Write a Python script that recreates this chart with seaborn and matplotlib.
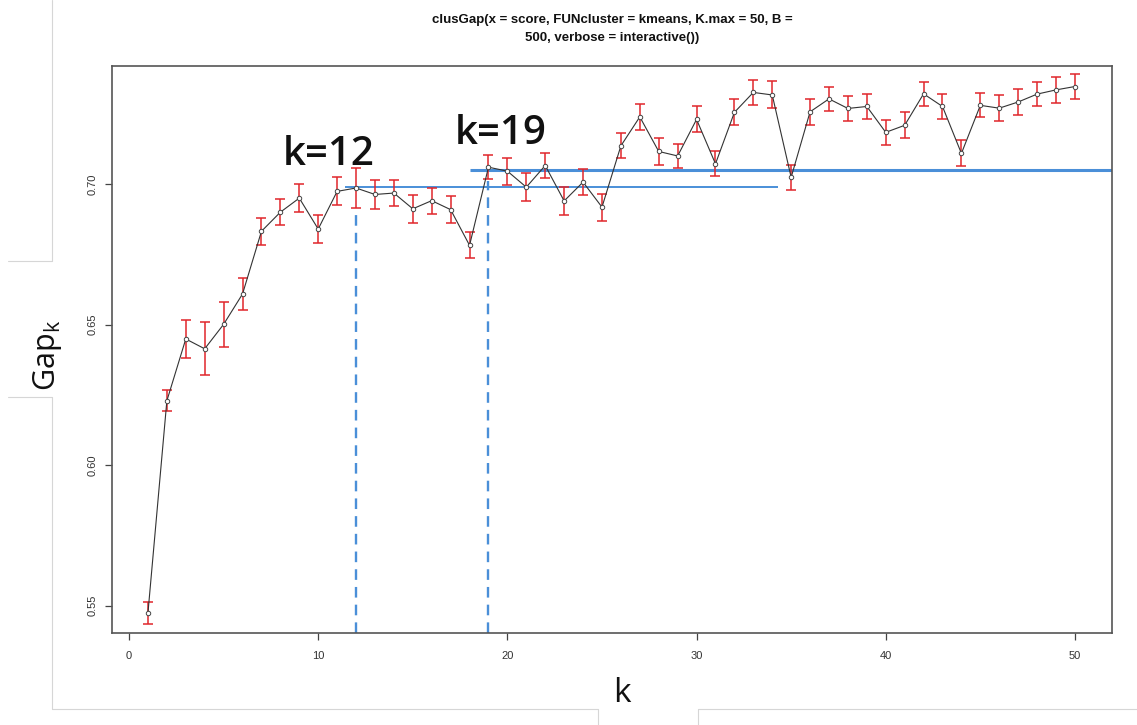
import numpy as np
import pandas as pd
import matplotlib
matplotlib.use("Agg")
import matplotlib.pyplot as plt
import seaborn as sns
from matplotlib.lines import Line2D

# ---- data ----
k = list(range(1, 51))
gap = [0.5474, 0.6229, 0.6449, 0.6414, 0.6501, 0.6609, 0.6832, 0.6900, 0.6950, 0.6840,
       0.6974, 0.6986, 0.6963, 0.6968, 0.6912, 0.6941, 0.6909, 0.6782, 0.7060, 0.7046,
       0.6989, 0.7066, 0.6940, 0.7007, 0.6918, 0.7136, 0.7239, 0.7116, 0.7100, 0.7230,
       0.7072, 0.7255, 0.7326, 0.7317, 0.7024, 0.7257, 0.7303, 0.7269, 0.7276, 0.7184,
       0.7209, 0.7321, 0.7276, 0.7109, 0.7280, 0.7270, 0.7292, 0.7320, 0.7335, 0.7347]
se = [0.0040, 0.0037, 0.0069, 0.0094, 0.0079, 0.0056, 0.0049, 0.0047, 0.0050, 0.0049,
      0.0050, 0.0072, 0.0053, 0.0047, 0.0050, 0.0046, 0.0048, 0.0046, 0.0042, 0.0048,
      0.0050, 0.0046, 0.0051, 0.0045, 0.0048, 0.0045, 0.0047, 0.0047, 0.0044, 0.0046,
      0.0044, 0.0046, 0.0044, 0.0048, 0.0044, 0.0047, 0.0044, 0.0043, 0.0045, 0.0044,
      0.0046, 0.0043, 0.0045, 0.0046, 0.0043, 0.0046, 0.0045, 0.0043, 0.0047, 0.0044]
chosen_k = [12, 19]
chosen_labels = ["k=12", "k=19"]
ref_levels = [0.6989, 0.7051]
ref_starts = [11.4, 18.0]
ref_ends = [34.3, 51.95]
ref_widths = [1.4, 2.2]
vline_tops = [0.6915, 0.7010]
label_pos_x = [8.1, 17.2]
label_pos_y = [0.7068, 0.7142]
x_ticks = [0, 10, 20, 30, 40, 50]
y_ticks = [0.55, 0.60, 0.65, 0.70]
title = "clusGap(x = score, FUNcluster = kmeans, K.max = 50, B =\n500, verbose = interactive())"

df = pd.DataFrame({"k": k, "gap": gap, "se": se})

sns.set_theme(style="white")
plt.rcParams["font.family"] = ["Liberation Sans", "DejaVu Sans"]

W, H = 1137, 725
fig = plt.figure(figsize=(W / 100, H / 100), dpi=100)
ax = fig.add_axes([112 / W, 1 - 633 / H, 1000 / W, 567 / H])

blue = "#4a8fd8"
red = "#e0262b"

# reference lines (blue)
for lvl, s, e, lw in zip(ref_levels, ref_starts, ref_ends, ref_widths):
    ax.plot([s, e], [lvl, lvl], color=blue, lw=lw, zorder=1, solid_capstyle="butt")
for kk, top in zip(chosen_k, vline_tops):
    ax.plot([kk, kk], [0.5403, top], color=blue, lw=1.7, ls=(0, (4.5, 3)), zorder=1)

# gap curve
sns.lineplot(data=df, x="k", y="gap", ax=ax, color="#333333", lw=0.8,
             marker="o", markersize=3.2, markerfacecolor="white",
             markeredgecolor="#444444", markeredgewidth=0.7, zorder=3)
ax.errorbar(df["k"], df["gap"], yerr=df["se"], fmt="none", ecolor=red,
            elinewidth=1.1, capsize=3.6, capthick=1.1, zorder=2)

# big annotations
for lab, xx, yy in zip(chosen_labels, label_pos_x, label_pos_y):
    ax.text(xx, yy, lab, fontsize=29, fontweight="semibold",
            family=["Open Sans", "DejaVu Sans"], color="#111111",
            ha="left", va="baseline", zorder=4)

ax.set_xlim(-0.9, 51.96)
ax.set_ylim(0.5403, 0.742)
ax.set_xticks(x_ticks)
ax.set_xticklabels([str(t) for t in x_ticks])
ax.set_yticks(y_ticks)
ax.set_yticklabels([f"{t:.2f}" for t in y_ticks], rotation=90, va="center")
ax.tick_params(axis="both", which="major", length=5, width=0.9, color="#444444",
               labelsize=8, labelcolor="#333333", pad=8, bottom=True, left=True)
ax.tick_params(axis="y", pad=5)
for sp in ax.spines.values():
    sp.set_color("#555555")
    sp.set_linewidth(1.2)
ax.set_xlabel("")
ax.set_ylabel("")

# axis titles
fig.text(622 / W, 1 - 694 / H, "k", fontsize=24, family=["Open Sans", "DejaVu Sans"],
         ha="center", va="center", color="#111111")
fig.text(47 / W, 1 - 355 / H, r"Gap$_\mathregular{k}$", fontsize=22, rotation=90,
         family=["Open Sans", "DejaVu Sans"], ha="center", va="center", color="#111111")

# title
fig.text(612 / W, 1 - 29 / H, title, fontsize=9.5, fontweight="bold", ha="center",
         va="center", linespacing=1.6, color="#111111")

# light gray frame decorations from screenshot
gray = "#d6d6d6"
segs = [((52, 0), (52, 261)), ((8, 261), (52, 261)),
        ((8, 397), (52, 397)), ((52, 397), (52, 709)),
        ((52, 709), (598, 709)), ((598, 709), (598, 725)),
        ((698, 709), (698, 725)), ((698, 709), (1137, 709))]
for (x0, y0), (x1, y1) in segs:
    fig.add_artist(Line2D([x0 / W, x1 / W], [1 - y0 / H, 1 - y1 / H],
                          transform=fig.transFigure, color=gray, lw=0.8))

fig.savefig("out.png", dpi=100)
